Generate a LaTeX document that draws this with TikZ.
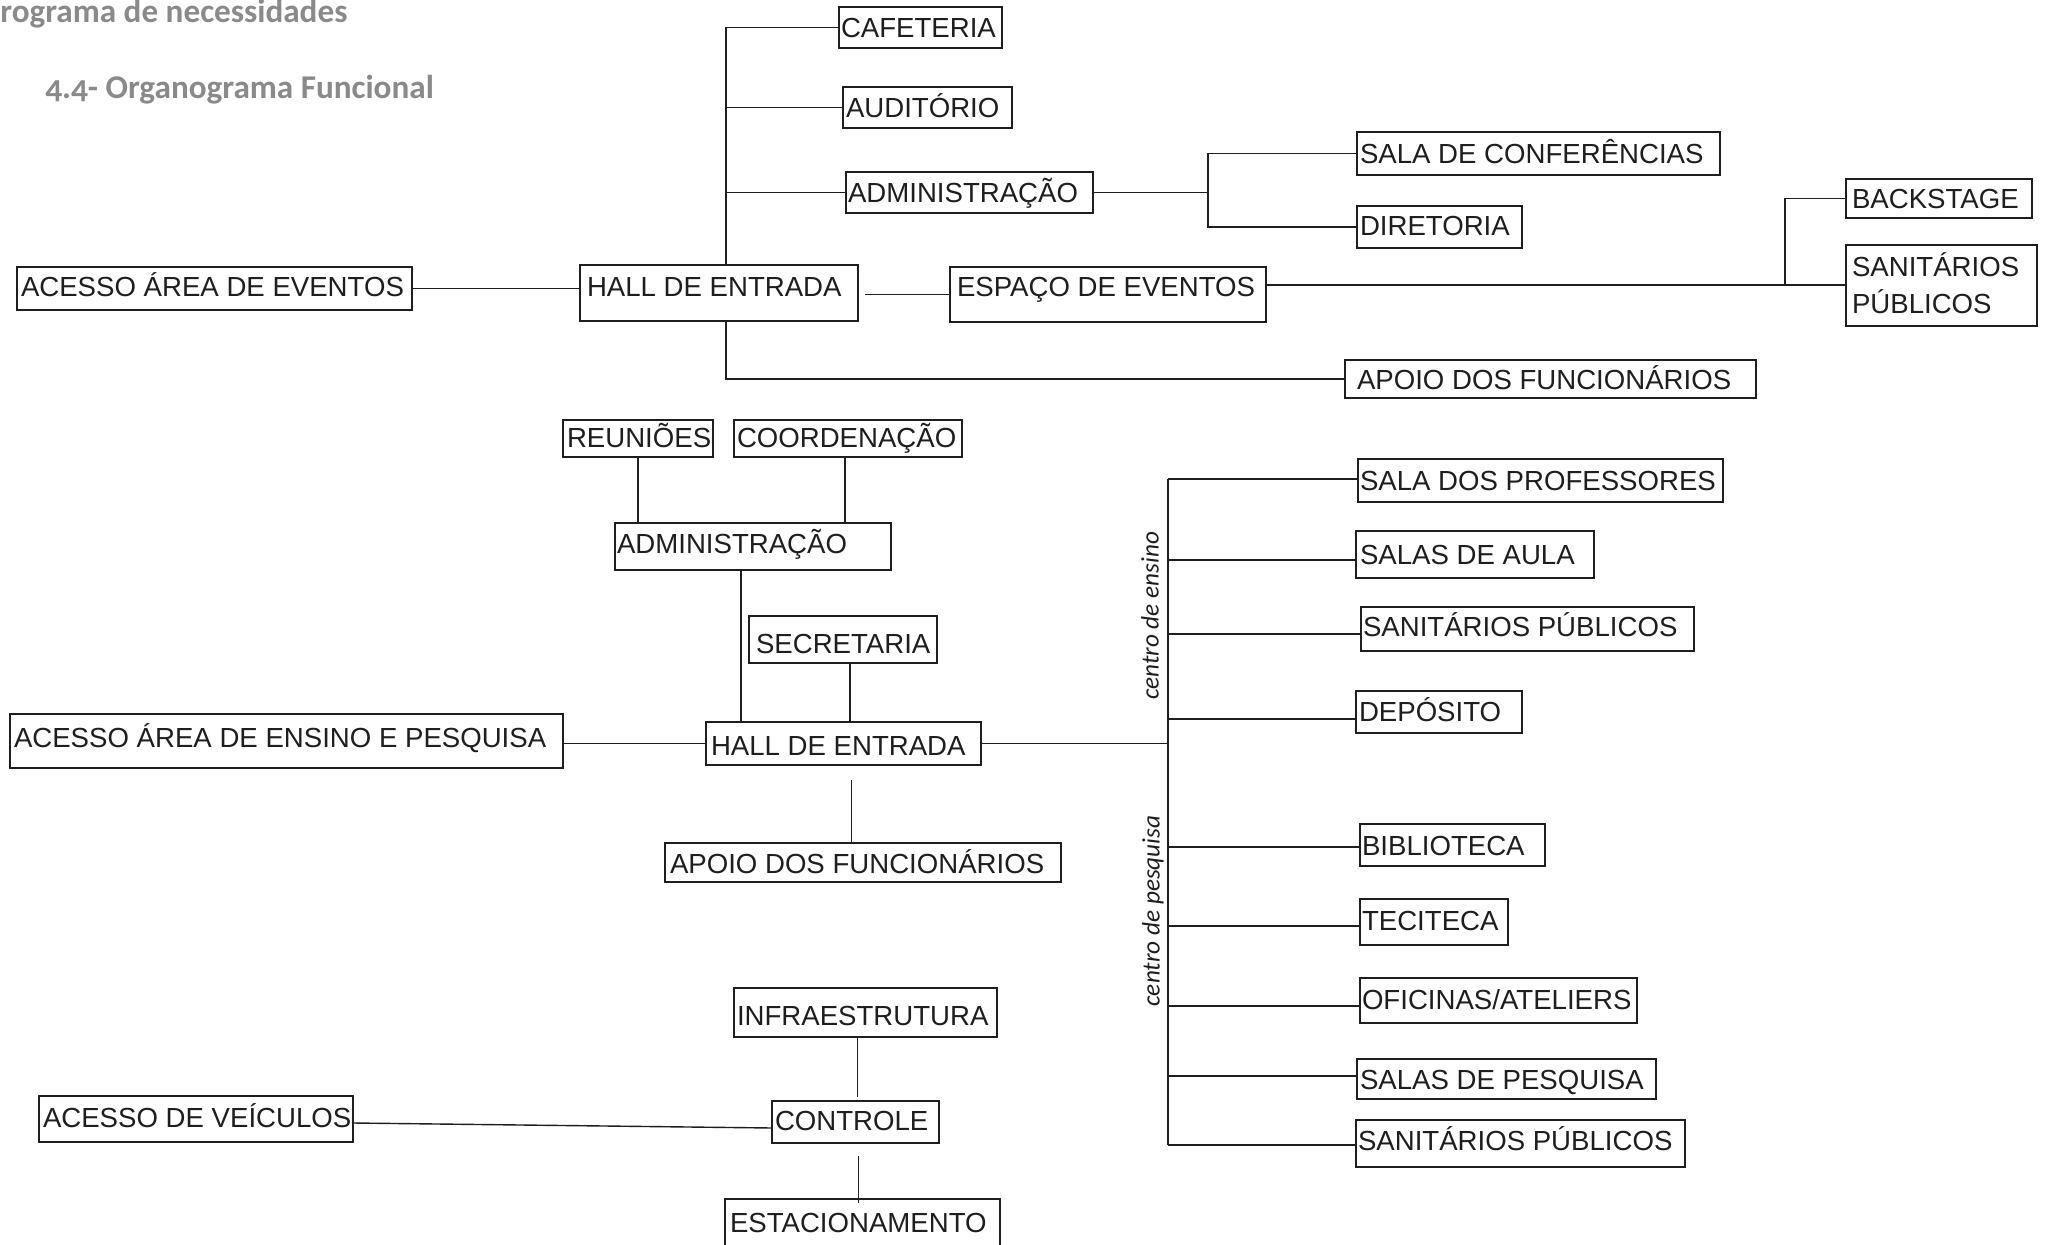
\documentclass[tikz,border=0pt]{standalone}
\usepackage{fontspec}
\setmainfont{Liberation Sans}
\newfontfamily\titlefont[Numbers=OldStyle]{Carlito}
\newfontfamily\labfont{Carlito}
\usetikzlibrary{fit,calc}
\definecolor{ink}{HTML}{1E1E1E}
\definecolor{titlegray}{HTML}{8A8A8A}
\tikzset{
 boxst/.style={draw=ink, line width=0.75pt, inner sep=0pt, outer sep=0pt},
 txt/.style={inner sep=0pt, outer sep=0pt, text=ink, font=\fontsize{13.8}{16}\selectfont},
 conn/.style={draw=ink, line width=0.7pt},
 ttl/.style={inner sep=0pt, text=titlegray, font=\titlefont\bfseries\fontsize{16.6}{20}\selectfont},
 side/.style={inner sep=0pt, text=ink, rotate=90, font=\labfont\itshape\fontsize{12.6}{15}\selectfont},
}
\newcommand\bx[8]{\node[boxst, fit={(#2,#3) (#4,#5)}] (#1) {};
  \node[txt, anchor=base west] (#1t) at (#6,#7) {#8};}
\newcommand\br[2]{\draw[conn] ($(tr2 |- #1.west)+(0,#2)$) -- ($(#1.west)+(0,#2)$);}
\begin{document}
\begin{tikzpicture}[x=0.5pt, y=-0.5pt]
\fill[white] (0,0) rectangle (2049,1245);
\useasboundingbox (0,0) rectangle (2049,1245);

% titles
\node[ttl, anchor=base west] (title1) at (0,23) {rograma de necessidades};
\node[ttl, anchor=base west] (title2) at (45,99) {4.4- Organograma Funcional};

% ---------- top section ----------
\bx{acc1}{17}{267}{412}{310}{21}{297}{ACESSO ÁREA DE EVENTOS}
\bx{hall1}{580}{265}{858}{321}{587}{297}{HALL DE ENTRADA}
\bx{caf}{839}{7}{1002}{48}{841}{38}{CAFETERIA}
\bx{aud}{843}{87}{1012}{128}{846}{118}{AUDITÓRIO}
\bx{adm1}{846}{172}{1093}{213}{848}{203}{ADMINISTRAÇÃO}
\bx{esp}{950}{267}{1266}{322}{957}{297}{ESPAÇO DE EVENTOS}
\bx{sala}{1357}{132}{1720}{175}{1360}{164}{SALA DE CONFERÊNCIAS}
\bx{dir}{1357}{206}{1522}{248}{1360}{236}{DIRETORIA}
\bx{back}{1846}{179}{2032}{218}{1852}{209}{BACKSTAGE}
\bx{san1}{1846}{245}{2037}{326}{1852}{277}{SANITÁRIOS}
\node[txt, anchor=base west] (san1u) at (1852,314) {PÚBLICOS};
\bx{apoio1}{1345}{360}{1756}{398}{1357}{390}{APOIO DOS FUNCIONÁRIOS}

\draw[conn] (acc1.east) -- (acc1.east -| hall1.west);
\coordinate (tr1) at (726,0);
\draw[conn] (hall1.north -| tr1) |- (caf.west);
\draw[conn] (tr1 |- aud.west) -- (aud.west);
\draw[conn] (tr1 |- adm1.west) -- (adm1.west);
\draw[conn] (hall1.south -| tr1) |- (apoio1.west);
\draw[conn] (esp.west) -- ($(esp.west -| hall1.east)+(7,0)$);
\coordinate (j1) at (1208,0);
\draw[conn] (adm1.east) -- (adm1.east -| j1);
\draw[conn] (sala.west) -| (dir.west -| j1) -- (dir.west);
\coordinate (j2) at (1785,0);
\coordinate (e1) at ($(esp.east)+(0,-9.5)$);
\draw[conn] (e1) -- (e1 -| san1.west);
\draw[conn] (e1 -| j2) |- (back.west);

% ---------- middle section ----------
\bx{reu}{563}{420}{713}{457}{567}{448}{REUNIÕES}
\bx{coord}{734}{420}{962}{457}{737}{448}{COORDENAÇÃO}
\bx{adm2}{615}{523}{891}{570}{617}{553}{ADMINISTRAÇÃO}
\bx{sec}{749}{616}{937}{663}{756}{653}{SECRETARIA}
\bx{hall2}{706}{722}{981}{765}{711}{755}{HALL DE ENTRADA}
\bx{acc2}{10}{714}{563}{768}{14}{747}{ACESSO ÁREA DE ENSINO E PESQUISA}
\bx{apoio2}{665}{843}{1061}{882}{670}{873}{APOIO DOS FUNCIONÁRIOS}

\bx{prof}{1358}{459}{1723}{502}{1360}{491}{SALA DOS PROFESSORES}
\bx{aula}{1356}{531}{1594}{578}{1360}{564}{SALAS DE AULA}
\bx{san2}{1361}{607}{1694}{651}{1363}{636}{SANITÁRIOS PÚBLICOS}
\bx{dep}{1356}{691}{1522}{733}{1359}{721}{DEPÓSITO}
\bx{bib}{1360}{824}{1545}{866}{1362}{855}{BIBLIOTECA}
\bx{tec}{1360}{899}{1508}{945}{1362}{930}{TECITECA}
\bx{ofi}{1360}{978}{1637}{1023}{1362}{1009}{OFICINAS/ATELIERS}
\bx{pes}{1357}{1059}{1656}{1099}{1360}{1089}{SALAS DE PESQUISA}
\bx{san3}{1356}{1120}{1685}{1167}{1358}{1150}{SANITÁRIOS PÚBLICOS}

\draw[conn] (reu.south) -- (reu.south |- adm2.north);
\draw[conn] ($(coord.south)+(-3,0)$) coordinate (c1) -- (c1 |- adm2.north);
\draw[conn] ($(adm2.south)+(-12,0)$) coordinate (c2) -- (c2 |- hall2.north);
\draw[conn] ($(sec.south)+(7,0)$) coordinate (c3) -- (c3 |- hall2.north);
\draw[conn] (hall2.west) -- (hall2.west -| acc2.east);
\coordinate (tr2) at (1168,0);
\draw[conn] (hall2.east) -- (hall2.east -| tr2);
\draw[conn] ($(hall2.south)+(8,15)$) coordinate (c4) -- (c4 |- apoio2.north);

\draw[conn] ($(tr2 |- prof.west)+(0,-1.5)$) -- ($(tr2 |- san3.west)+(0,1.5)$);
\br{prof}{-1.5}
\br{aula}{5.5}
\br{san2}{5}
\br{dep}{7}
\br{bib}{2}
\br{tec}{4}
\br{ofi}{5.5}
\br{pes}{-3}
\br{san3}{1.5}

\node[side] (lab1) at (1150,616) {centro de ensino};
\node[side] (lab2) at (1153,911) {centro de pesquisa};

% ---------- bottom section ----------
\bx{infra}{734}{988}{997}{1037}{737}{1025}{INFRAESTRUTURA}
\bx{ctrl}{772}{1101}{939}{1143}{775}{1130}{CONTROLE}
\bx{est}{725}{1199}{1000}{1252}{730}{1232}{ESTACIONAMENTO}
\bx{acc3}{39}{1096}{353}{1142}{43}{1127}{ACESSO DE VEÍCULOS}

\draw[conn] ($(infra.south)+(-8,0)$) coordinate (c5) -- ($(c5 |- ctrl.north)+(0,-4)$);
\draw[conn] ($(ctrl.south)+(3,13)$) coordinate (c6) -- ($(c6 |- est.north)+(0,4)$);
\draw[conn] ($(acc3.east)+(0,4)$) -- ($(ctrl.west)+(0,6)$);
\end{tikzpicture}
\end{document}
